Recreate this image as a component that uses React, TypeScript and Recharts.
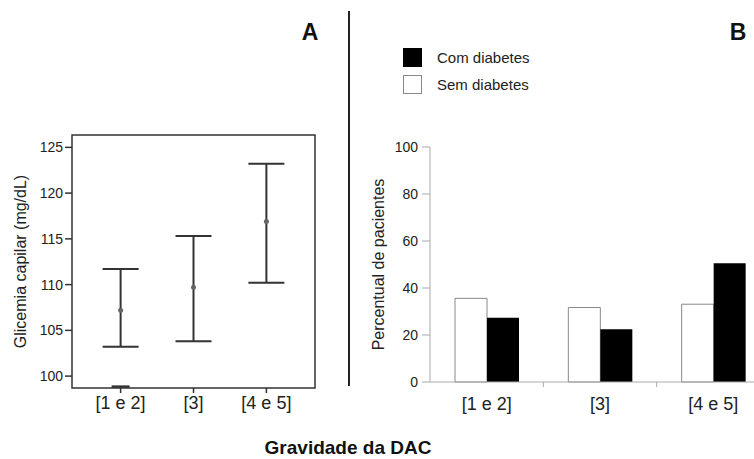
import React from "react";
import {
  ComposedChart,
  Scatter,
  ErrorBar,
  BarChart,
  Bar,
  XAxis,
  YAxis,
  ReferenceArea,
  Legend,
} from "recharts";

// panel A: capillary glycemia by CAD severity (mean with interval)
const severityLabels = ["[1 e 2]", "[3]", "[4 e 5]"];
const glicemiaMean = [107.2, 109.7, 116.9];
const glicemiaUpper = [111.7, 115.3, 123.2];
const glicemiaLower = [103.2, 103.8, 110.2];
const extraCap = [{ x: 1, y: 98.85 }];
const glicemiaTicks = [100, 105, 110, 115, 120, 125];

// panel B: percentage of patients with / without diabetes
const semDiabetes = [35.6, 31.7, 33.1];
const comDiabetes = [27.3, 22.5, 50.5];
const percentTicks = [0, 20, 40, 60, 80, 100];
const legendOrder = ["com", "sem"];

const FONT = "'Liberation Sans', Arial, sans-serif";
const TEXT = "#222";
const LABEL_GAP = 15;

const glicemiaData = severityLabels.map((_, i) => ({
  x: i + 1,
  y: glicemiaMean[i],
  err: [glicemiaMean[i] - glicemiaLower[i], glicemiaUpper[i] - glicemiaMean[i]],
}));

const percentData = severityLabels.map((cat, i) => ({
  cat,
  sem: semDiabetes[i],
  com: comDiabetes[i],
}));

const SERIES_STYLE: Record<string, { fill: string; stroke: string }> = {
  com: { fill: "#000", stroke: "#000" },
  sem: { fill: "#fff", stroke: "#888" },
};

const MeanDot = (props: any) => (
  <circle cx={props.cx} cy={props.cy} r={2.5} fill="#666" />
);

const CapLine = (props: any) => (
  <line
    x1={props.cx - 9}
    x2={props.cx + 9}
    y1={props.cy}
    y2={props.cy}
    stroke="#333"
    strokeWidth={2.5}
  />
);

// category label + small separator tick at the right edge of the band
const CategoryTick = (props: any) => {
  const { x, y, payload, index, visibleTicksCount } = props;
  const half = payload?.offset || 56.7;
  const axisY = y - LABEL_GAP;
  const last = index >= (visibleTicksCount ?? severityLabels.length) - 1;
  return (
    <g>
      <text
        x={x}
        y={y}
        dy="0.71em"
        textAnchor="middle"
        fontSize={18}
        fill={TEXT}
        fontFamily={FONT}
      >
        {payload.value}
      </text>
      {!last && (
        <line
          x1={x + half}
          x2={x + half}
          y1={axisY}
          y2={axisY + 5}
          stroke="#aaa"
        />
      )}
    </g>
  );
};

const renderLegend = (props: any) => {
  const items = [...(props.payload || [])].sort(
    (a: any, b: any) => legendOrder.indexOf(a.dataKey) - legendOrder.indexOf(b.dataKey)
  );
  return (
    <div style={{ fontFamily: FONT }}>
      {items.map((entry: any) => {
        const st = SERIES_STYLE[entry.dataKey] || SERIES_STYLE.com;
        return (
          <div
            key={entry.value}
            style={{ display: "flex", alignItems: "center", height: 27 }}
          >
            <span
              style={{
                display: "inline-block",
                width: 19,
                height: 19,
                boxSizing: "border-box",
                background: st.fill,
                border: `1px solid ${st.stroke}`,
              }}
            />
            <span style={{ marginLeft: 15, fontSize: 15, color: TEXT }}>
              {entry.value}
            </span>
          </div>
        );
      })}
    </div>
  );
};

export default function App() {
  const xMin = 1 - 0.667;
  const xMax = severityLabels.length + 0.667;
  const yMinA = 98.7;
  const yMaxA = 126.35;

  return (
    <div
      style={{
        position: "absolute",
        left: 0,
        top: 0,
        width: 754,
        height: 459,
        overflow: "hidden",
        background: "#fff",
        fontFamily: FONT,
      }}
    >
      <div style={{ position: "absolute", left: 0, top: 0 }}>
        <ComposedChart
          width={340}
          height={459}
          margin={{ top: 135, right: 25, bottom: 41, left: 0 }}
        >
          <XAxis
            dataKey="x"
            type="number"
            domain={[xMin, xMax]}
            allowDataOverflow
            ticks={[1, 2, 3]}
            tickFormatter={(v: number) => severityLabels[v - 1] ?? ""}
            axisLine={false}
            tickLine={{ stroke: "#333", strokeWidth: 1.5 }}
            tickSize={5}
            tickMargin={3}
            tick={{ fontSize: 18, fill: TEXT, fontFamily: FONT }}
            height={30}
          />
          <YAxis
            dataKey="y"
            type="number"
            domain={[yMinA, yMaxA]}
            allowDataOverflow
            ticks={glicemiaTicks}
            axisLine={false}
            tickLine={{ stroke: "#333", strokeWidth: 1.5 }}
            tickSize={7}
            tickMargin={2}
            tick={{ fontSize: 14, fill: TEXT, fontFamily: FONT }}
            width={72}
            label={{
              value: "Glicemia capilar (mg/dL)",
              angle: -90,
              position: "insideLeft",
              offset: 20,
              style: { textAnchor: "middle", fontSize: 16, fill: TEXT, fontFamily: FONT },
            }}
          />
          <ReferenceArea
            x1={xMin}
            x2={xMax}
            y1={yMinA}
            y2={yMaxA}
            fill="none"
            stroke="#333"
            strokeWidth={1.5}
          />
          <Scatter data={glicemiaData} shape={MeanDot} isAnimationActive={false}>
            <ErrorBar
              dataKey="err"
              direction="y"
              width={18}
              stroke="#333"
              strokeWidth={2}
              isAnimationActive={false}
            />
          </Scatter>
          <Scatter data={extraCap} shape={CapLine} isAnimationActive={false} />
        </ComposedChart>
      </div>

      <div
        style={{
          position: "absolute",
          left: 347.5,
          top: 11,
          width: 2,
          height: 375,
          background: "#222",
        }}
      />

      <div style={{ position: "absolute", left: 360, top: 0 }}>
        <BarChart
          width={410}
          height={459}
          data={percentData}
          margin={{ top: 147, right: 0, bottom: 47, left: 0 }}
          barSize={32}
          barGap={0}
        >
          <XAxis
            dataKey="cat"
            axisLine={{ stroke: "#aaa" }}
            tickLine={false}
            tickSize={0}
            tickMargin={LABEL_GAP}
            tick={<CategoryTick />}
            height={30}
          />
          <YAxis
            type="number"
            domain={[0, 100]}
            ticks={percentTicks}
            axisLine={{ stroke: "#aaa" }}
            tickLine={{ stroke: "#aaa" }}
            tickSize={8}
            tickMargin={4}
            tick={{ fontSize: 14, fill: TEXT, fontFamily: FONT }}
            width={70}
            label={{
              value: "Percentual de pacientes",
              angle: -90,
              position: "insideLeft",
              offset: 18,
              style: { textAnchor: "middle", fontSize: 16, fill: TEXT, fontFamily: FONT },
            }}
          />
          <Legend
            layout="vertical"
            align="center"
            verticalAlign="middle"
            wrapperStyle={{ left: 43, top: 44, width: 200 }}
            content={renderLegend}
          />
          <Bar
            dataKey="sem"
            name="Sem diabetes"
            fill={SERIES_STYLE.sem.fill}
            stroke={SERIES_STYLE.sem.stroke}
            strokeWidth={1}
            isAnimationActive={false}
          />
          <Bar
            dataKey="com"
            name="Com diabetes"
            fill={SERIES_STYLE.com.fill}
            isAnimationActive={false}
          />
        </BarChart>
      </div>

      <div
        style={{
          position: "absolute",
          left: 299,
          top: 19,
          width: 22,
          textAlign: "center",
          fontWeight: "bold",
          fontSize: 23,
          color: "#111",
        }}
      >
        A
      </div>
      <div
        style={{
          position: "absolute",
          left: 727,
          top: 19,
          width: 22,
          textAlign: "center",
          fontWeight: "bold",
          fontSize: 23,
          color: "#111",
        }}
      >
        B
      </div>
      <div
        style={{
          position: "absolute",
          left: 248,
          top: 436,
          width: 200,
          textAlign: "center",
          fontWeight: "bold",
          fontSize: 19,
          color: "#111",
          lineHeight: "24px",
        }}
      >
        Gravidade da DAC
      </div>
    </div>
  );
}
